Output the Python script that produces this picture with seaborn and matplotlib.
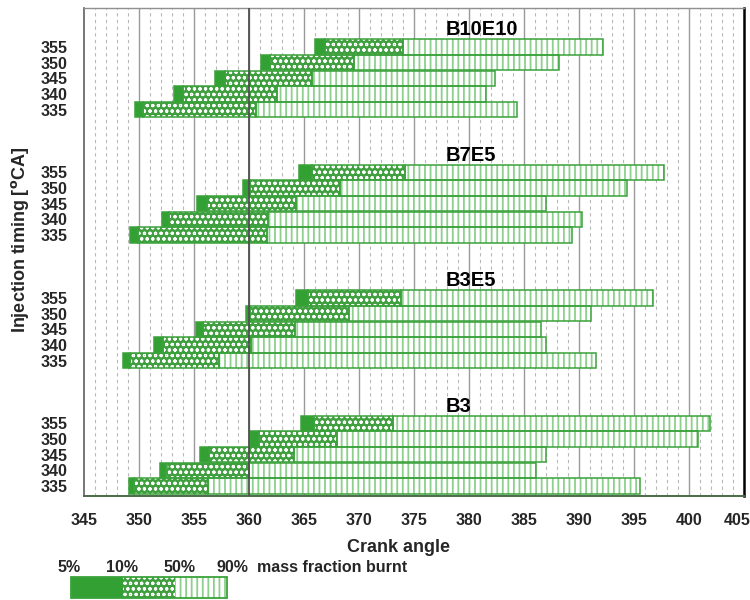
import matplotlib
matplotlib.use("Agg")
import matplotlib.pyplot as plt
import matplotlib.transforms as mtransforms
import seaborn as sns
import numpy as np

# Injection timings (deg CA) and fuels, bottom group first
timings = [335, 340, 345, 350, 355]
fuels = ["B3", "B3E5", "B7E5", "B10E10"]

# Crank angle at 5 %, 10 %, 50 % and 90 % mass fraction burnt, per fuel (timings 335..355)
b3_ca05 = [349.1, 351.9, 355.5, 360.05, 364.7]
b3_ca10 = [349.5, 352.5, 356.4, 360.9, 365.9]
b3_ca50 = [356.3, 360.0, 364.1, 368.0, 373.1]
b3_ca90 = [395.5, 386.1, 387.0, 400.8, 401.9]

b3e5_ca05 = [348.5, 351.4, 355.15, 359.7, 364.25]
b3e5_ca10 = [349.2, 352.2, 355.8, 360.1, 365.4]
b3e5_ca50 = [357.25, 360.2, 364.2, 369.1, 373.8]
b3e5_ca90 = [391.5, 387.0, 386.5, 391.1, 396.7]

b7e5_ca05 = [349.15, 352.1, 355.3, 359.45, 364.55]
b7e5_ca10 = [349.9, 352.7, 356.2, 360.05, 365.75]
b7e5_ca50 = [361.6, 361.7, 364.3, 368.3, 374.2]
b7e5_ca90 = [389.4, 390.3, 387.0, 394.4, 397.7]

b10e10_ca05 = [349.6, 353.15, 356.95, 361.05, 366.0]
b10e10_ca10 = [350.35, 354.0, 357.85, 361.95, 366.95]
b10e10_ca50 = [360.6, 362.5, 365.7, 369.55, 374.0]
b10e10_ca90 = [384.4, 381.5, 382.4, 388.2, 392.2]

legend_labels = ["5%", "10%", "50%", "90%"]

fuel_data = {
    "B3": (b3_ca05, b3_ca10, b3_ca50, b3_ca90),
    "B3E5": (b3e5_ca05, b3e5_ca10, b3e5_ca50, b3e5_ca90),
    "B7E5": (b7e5_ca05, b7e5_ca10, b7e5_ca50, b7e5_ca90),
    "B10E10": (b10e10_ca05, b10e10_ca10, b10e10_ca50, b10e10_ca90),
}

sns.set_theme(style="white")
plt.rcParams["font.family"] = ["Liberation Sans", "DejaVu Sans"]
plt.rcParams["font.weight"] = "bold"
plt.rcParams["mathtext.default"] = "bf"

GREEN = "#33a033"
EDGE = "#3aa23a"
MID = "#40a040"
DASH = "#8dcf8d"

# hatch line widths for the two patterned segments
HATCH_LW = {"ooo": 0.8, "|||": 1.3}

fig = plt.figure(figsize=(7.5, 6), dpi=100)
ax = fig.add_axes([0.112, 0.173, 0.88, 0.814])

GROUP_STEP = 8
BAR_H = 0.98


def segment(axis, y, width, left, face, hatch, hatch_col, outline=True, height=BAR_H):
    with plt.rc_context({"hatch.linewidth": HATCH_LW.get(hatch, 1.0)}):
        bars = axis.barh(y, width, left=left, height=height, color=face,
                         edgecolor=hatch_col, hatch=hatch, linewidth=0, zorder=3)
        for b in bars:
            if hasattr(b, "set_hatch_linewidth"):
                b.set_hatch_linewidth(HATCH_LW.get(hatch, 1.0))
    if outline:
        axis.barh(y, width, left=left, height=height,
                  fill=False, edgecolor=EDGE, linewidth=1.1, zorder=4)


ytick_pos, ytick_lab = [], []
for g, fuel in enumerate(fuels):
    ca05, ca10, ca50, ca90 = (np.asarray(a) for a in fuel_data[fuel])
    base = g * GROUP_STEP
    ys = base + np.arange(len(timings))
    segment(ax, ys, ca10 - ca05, ca05, GREEN, None, GREEN)
    segment(ax, ys, ca50 - ca10, ca10, MID, "ooo", "white")
    segment(ax, ys, ca90 - ca50, ca50, "white", "|||", DASH)
    ax.text(377.9, base + 5.1, fuel, ha="left", va="center",
            fontsize=14.5, fontweight="bold", color="black", zorder=6)
    ytick_pos.extend(ys)
    ytick_lab.extend([str(t) for t in timings])

ax.set_xlim(345, 405)
ax.set_ylim(-0.64, 30.49)
ax.set_xticks(np.arange(345, 406, 5))
ax.set_xticks(np.arange(345, 406, 1), minor=True)
ax.set_yticks(ytick_pos)
ax.set_yticklabels(ytick_lab)

ax.grid(False)
for xv in np.arange(346, 405, 1):
    if xv % 5 == 0:
        ax.axvline(xv, color="#9a9a9a", lw=1.0, zorder=1)
    else:
        ax.axvline(xv, color="#b8b8b8", lw=0.8, ls=(0, (3, 3)), zorder=1)
ax.axvline(360, color="#505050", lw=1.3, zorder=5)

ax.tick_params(axis="x", which="major", direction="in", length=6, width=1.2,
               color=GREEN, labelsize=11.5, pad=12)
ax.tick_params(axis="x", which="minor", length=0)
ax.tick_params(axis="y", length=0, labelsize=11.5, pad=12)
for lab in ax.get_xticklabels() + ax.get_yticklabels():
    lab.set_fontweight("bold")
# keep the rightmost tick label inside the canvas
last = ax.get_xticklabels()[-1]
last.set_transform(last.get_transform() +
                   mtransforms.ScaledTranslation(-7 / 100, 0, fig.dpi_scale_trans))

for side, col, lw in [("left", "#606060", 1.2), ("top", "#909090", 1.0),
                      ("right", "#000000", 1.8), ("bottom", "#4a6a4a", 1.4)]:
    ax.spines[side].set_visible(True)
    ax.spines[side].set_color(col)
    ax.spines[side].set_linewidth(lw)

ax.set_xlabel("Crank angle", fontsize=13, fontweight="bold")
ax.xaxis.set_label_coords(0.476, -0.105)
ax.xaxis.label.set_va("center")
ax.set_ylabel(r"Injection timing [$^{\mathbf{o}}$CA]", fontsize=13, fontweight="bold")
ax.yaxis.set_label_coords(-0.097, 0.525)
ax.yaxis.label.set_va("center")

# Legend strip: one segment per burn interval
lax = fig.add_axes([0.0947, 0.003, 0.208, 0.035])
segment(lax, [0], [1], [0], GREEN, None, GREEN, outline=False, height=1)
segment(lax, [0], [1], [1], MID, "ooo", "white", outline=False, height=1)
segment(lax, [0], [1], [2], "white", "|||", DASH, outline=False, height=1)
lax.barh([0], [3], left=[0], height=1, fill=False, edgecolor=EDGE,
         linewidth=1.3, zorder=5, clip_on=False)
lax.set_xlim(0, 3)
lax.set_ylim(-0.5, 0.5)
lax.axis("off")

label_x = [69, 122, 179, 232]
for lx, txt in zip(label_x, legend_labels):
    fig.text(lx / 750, 1 - 567 / 600, txt, ha="center", va="center",
             fontsize=11.5, fontweight="bold")
fig.text(257 / 750, 1 - 567 / 600, "mass fraction burnt", ha="left", va="center",
         fontsize=11.5, fontweight="bold")

fig.savefig("out.png", dpi=100)
